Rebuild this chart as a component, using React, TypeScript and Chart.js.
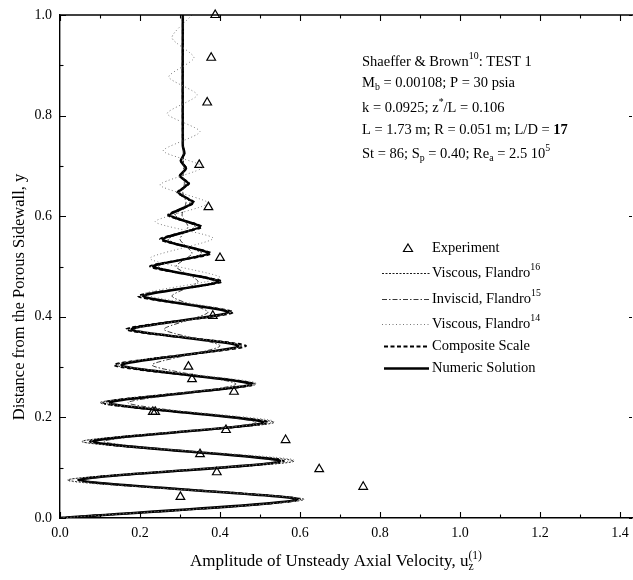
import React, { useEffect, useRef } from "react";
import { Chart, registerables } from "chart.js";

Chart.register(...registerables);

// ---- Data ----
const numericY = [0, 0.037, 0.0755, 0.113, 0.152, 0.19, 0.229, 0.266, 0.304, 0.342, 0.375, 0.409, 0.441, 0.47, 0.5, 0.526, 0.554, 0.579, 0.602, 0.627, 0.647, 0.665, 0.68, 0.695, 0.71, 0.725, 0.74, 1.0];
const numericX = [0, 0.592, 0.05, 0.55, 0.083, 0.508, 0.125, 0.477, 0.154, 0.446, 0.179, 0.421, 0.208, 0.396, 0.233, 0.371, 0.257, 0.35, 0.275, 0.332, 0.296, 0.321, 0.3, 0.315, 0.302, 0.311, 0.307, 0.307];
const compositeX = [0, 0.6, 0.045, 0.56, 0.075, 0.52, 0.108, 0.485, 0.135, 0.465, 0.165, 0.433, 0.195, 0.405, 0.225, 0.378, 0.25, 0.355, 0.27, 0.336, 0.293, 0.323, 0.299, 0.316, 0.302, 0.311, 0.307, 0.307];
const viscous16X = [0, 0.61, 0.02, 0.585, 0.055, 0.535, 0.1, 0.49, 0.14, 0.455, 0.17, 0.42, 0.21, 0.385, 0.245, 0.355, 0.27, 0.338, 0.288, 0.325, 0.3, 0.315, 0.305, 0.31, 0.308, 0.309, 0.308, 0.308];
const inviscid15X = [0, 0.59, 0.06, 0.54, 0.11, 0.49, 0.17, 0.44, 0.23, 0.4, 0.26, 0.37, 0.28, 0.345, 0.29, 0.33, 0.3, 0.32, 0.305, 0.315, 0.307, 0.311, 0.308, 0.309, 0.308, 0.308, 0.308, 0.308];
const viscous14Y = [0, 0.037, 0.075, 0.115, 0.152, 0.192, 0.23, 0.268, 0.305, 0.342, 0.375, 0.41, 0.445, 0.478, 0.516, 0.556, 0.589, 0.626, 0.662, 0.698, 0.73, 0.768, 0.804, 0.841, 0.877, 0.915, 0.955, 1.0];
const viscous14X = [0, 0.61, 0.018, 0.585, 0.055, 0.535, 0.11, 0.49, 0.145, 0.455, 0.185, 0.43, 0.21, 0.4, 0.225, 0.383, 0.238, 0.37, 0.25, 0.358, 0.258, 0.35, 0.268, 0.343, 0.272, 0.335, 0.28, 0.33];
const expX = [0.388, 0.378, 0.368, 0.348, 0.371, 0.4, 0.382, 0.321, 0.33, 0.435, 0.232, 0.238, 0.415, 0.564, 0.35, 0.392, 0.301, 0.648, 0.758];
const expY = [1.0, 0.915, 0.826, 0.702, 0.618, 0.517, 0.402, 0.301, 0.276, 0.251, 0.211, 0.211, 0.175, 0.155, 0.127, 0.091, 0.042, 0.097, 0.062];
const tickValues = [0, 0.1, 0.2, 0.3, 0.4, 0.5, 0.6, 0.7, 0.8, 0.9, 1.0, 1.1, 1.2, 1.3, 1.4];
const yTickValues = [0, 0.1, 0.2, 0.3, 0.4, 0.5, 0.6, 0.7, 0.8, 0.9, 1.0];

const FONT = '"Liberation Serif", "Times New Roman", serif';

type Seg = { t: string; k?: "sub" | "sup"; b?: boolean; stack?: boolean };

function drawRich(ctx: CanvasRenderingContext2D, x: number, y: number, segs: Seg[], size: number) {
  let cx = x;
  let prevStart = x;
  ctx.textAlign = "left";
  ctx.textBaseline = "middle";
  for (const s of segs) {
    const small = s.k === "sub" || s.k === "sup";
    const fs = small ? size * 0.68 : size;
    ctx.font = `${s.b ? "bold " : ""}${fs}px ${FONT}`;
    const dy = s.k === "sup" ? -size * 0.38 : s.k === "sub" ? size * 0.32 : 0;
    const startX = s.stack ? prevStart : cx;
    ctx.fillText(s.t, startX, y + dy);
    const w = ctx.measureText(s.t).width;
    if (!s.stack) {
      prevStart = startX;
      cx = startX + w;
    } else {
      cx = Math.max(cx, startX + w);
    }
  }
}

const pts = (xs: number[], ys: number[]) => xs.map((x, i) => ({ x, y: ys[i] }));

const decorPlugin = {
  id: "decor",
  afterDraw(chart: any) {
    const ctx: CanvasRenderingContext2D = chart.ctx;
    const xs = chart.scales.x;
    const ys = chart.scales.y;
    const { left, right, top, bottom } = chart.chartArea;
    ctx.save();
    ctx.strokeStyle = "#000";
    ctx.fillStyle = "#000";
    // top border
    ctx.lineWidth = 1.3;
    ctx.beginPath();
    ctx.moveTo(left, top);
    ctx.lineTo(right, top);
    ctx.stroke();
    // ticks
    ctx.lineWidth = 1.1;
    tickValues.forEach((v, i) => {
      const px = Math.round(xs.getPixelForValue(v)) + 0.5;
      const len = i % 2 === 0 ? 6 : 3.5;
      ctx.beginPath();
      ctx.moveTo(px, bottom);
      ctx.lineTo(px, bottom - len);
      ctx.moveTo(px, top);
      ctx.lineTo(px, top + len);
      ctx.stroke();
    });
    yTickValues.forEach((v, i) => {
      const py = Math.round(ys.getPixelForValue(v)) + 0.5;
      const len = i % 2 === 0 ? 6 : 3.5;
      ctx.beginPath();
      ctx.moveTo(left, py);
      ctx.lineTo(left + len, py);
      if (i % 2 === 0) {
        ctx.moveTo(right - 1, py);
        ctx.lineTo(right - 4, py);
      }
      ctx.stroke();
    });

    // axis titles
    ctx.fillStyle = "#000";
    drawRich(ctx, 190, 562, [
      { t: "Amplitude of Unsteady Axial Velocity, u" },
      { t: "z", k: "sub" },
      { t: "(1)", k: "sup", stack: true },
    ], 17);
    ctx.save();
    ctx.translate(20, 297);
    ctx.rotate(-Math.PI / 2);
    ctx.font = `16.5px ${FONT}`;
    ctx.textAlign = "center";
    ctx.textBaseline = "middle";
    ctx.fillText("Distance from the Porous Sidewall, y", 0, 0);
    ctx.restore();

    // annotation block
    const ax = 362;
    const fs = 14.5;
    drawRich(ctx, ax, 62, [{ t: "Shaeffer & Brown" }, { t: "10", k: "sup" }, { t: ": TEST 1" }], fs);
    drawRich(ctx, ax, 83, [{ t: "M" }, { t: "b", k: "sub" }, { t: " = 0.00108; P = 30 psia" }], fs);
    drawRich(ctx, ax, 108, [{ t: "k = 0.0925; z" }, { t: "*", k: "sup" }, { t: "/L = 0.106" }], fs);
    drawRich(ctx, ax, 130, [{ t: "L = 1.73 m; R = 0.051 m; L/D = " }, { t: "17", b: true }], fs);
    drawRich(ctx, ax, 154, [
      { t: "St = 86; S" }, { t: "p", k: "sub" }, { t: " = 0.40; Re" }, { t: "a", k: "sub" }, { t: " = 2.5 10" }, { t: "5", k: "sup" },
    ], fs);

    // legend
    const lx = 432;
    const rows = [
      { y: 248, label: [{ t: "Experiment" }] as Seg[] },
      { y: 273, label: [{ t: "Viscous, Flandro" }, { t: "16", k: "sup" }] as Seg[] },
      { y: 299, label: [{ t: "Inviscid, Flandro" }, { t: "15", k: "sup" }] as Seg[] },
      { y: 324, label: [{ t: "Viscous, Flandro" }, { t: "14", k: "sup" }] as Seg[] },
      { y: 346, label: [{ t: "Composite Scale" }] as Seg[] },
      { y: 368, label: [{ t: "Numeric Solution" }] as Seg[] },
    ];
    rows.forEach((r) => drawRich(ctx, lx, r.y, r.label, fs));
    // triangle
    ctx.lineWidth = 1.2;
    ctx.strokeStyle = "#000";
    ctx.beginPath();
    ctx.moveTo(408, 244);
    ctx.lineTo(412.5, 251.5);
    ctx.lineTo(403.5, 251.5);
    ctx.closePath();
    ctx.stroke();
    const sample = (y: number, dash: number[], w: number, color: string, x0 = 382, x1 = 430) => {
      ctx.save();
      ctx.strokeStyle = color;
      ctx.lineWidth = w;
      ctx.setLineDash(dash);
      ctx.beginPath();
      ctx.moveTo(x0, y + 0.5);
      ctx.lineTo(x1, y + 0.5);
      ctx.stroke();
      ctx.restore();
    };
    sample(273, [2, 1.5], 0.9, "#000");
    sample(299, [5, 2, 1.5, 2], 0.9, "#222");
    sample(324, [1, 2.5], 1, "#777");
    sample(346, [4, 2.5], 1.8, "#000", 384, 429);
    sample(368, [], 2.4, "#000", 384, 429);
    ctx.restore();
  },
};

export default function App() {
  const ref = useRef<HTMLCanvasElement | null>(null);
  useEffect(() => {
    document.body.style.margin = "0";
    const canvas = ref.current;
    if (!canvas) return;
    const lineDs = (label: string, xs: number[], ys: number[], color: string, width: number, dash: number[]) => ({
      type: "line" as const,
      label,
      data: pts(xs, ys),
      borderColor: color,
      borderWidth: width,
      borderDash: dash,
      pointRadius: 0,
      fill: false,
      tension: 0.22,
      showLine: true,
    });
    const chart = new Chart(canvas, {
      type: "scatter",
      data: {
        datasets: [
          lineDs("Viscous, Flandro 14", viscous14X, viscous14Y, "#7a7a7a", 1, [1, 2.5]),
          lineDs("Inviscid, Flandro 15", inviscid15X, numericY, "#222", 0.9, [5, 2, 1.5, 2]),
          lineDs("Viscous, Flandro 16", viscous16X, numericY, "#000", 0.9, [2, 1.5]),
          lineDs("Composite Scale", compositeX, numericY, "#000", 1.8, [4, 2.5]),
          lineDs("Numeric Solution", numericX, numericY, "#000", 2.5, []),
          {
            label: "Experiment",
            data: pts(expX, expY),
            pointStyle: "triangle",
            pointRadius: 5,
            borderColor: "#000",
            borderWidth: 1.2,
            backgroundColor: "rgba(255,255,255,0)",
            showLine: false,
            clip: false,
          } as any,
        ],
      },
      options: {
        animation: false,
        responsive: false,
        devicePixelRatio: 1,
        layout: { autoPadding: false, padding: { top: 15, right: 0, left: 0, bottom: 0 } },
        plugins: { legend: { display: false }, tooltip: { enabled: false } },
        scales: {
          x: {
            type: "linear",
            min: 0,
            max: 1.4325,
            afterFit: (s: any) => { s.height = 62; s.paddingLeft = 0; s.paddingRight = 0; },
            afterBuildTicks: (s: any) => { s.ticks = tickValues.map((v) => ({ value: v })); },
            grid: { display: true, drawOnChartArea: false, drawTicks: false },
            border: { display: true, color: "#000", width: 1.4 },
            ticks: {
              autoSkip: false,
              maxRotation: 0,
              padding: 7,
              color: "#000",
              font: { family: FONT, size: 14 },
              callback: (v: any) => (Math.round(Number(v) * 10) % 2 === 0 ? Number(v).toFixed(1) : ""),
            },
          },
          y: {
            type: "linear",
            min: 0,
            max: 1,
            afterFit: (s: any) => { s.width = 60; s.paddingTop = 0; s.paddingBottom = 0; },
            afterBuildTicks: (s: any) => { s.ticks = yTickValues.map((v) => ({ value: v })); },
            grid: { display: true, drawOnChartArea: false, drawTicks: false },
            border: { display: true, color: "#000", width: 1.4 },
            ticks: {
              autoSkip: false,
              padding: 8,
              color: "#000",
              font: { family: FONT, size: 14 },
              callback: (v: any) => (Math.round(Number(v) * 10) % 2 === 0 ? Number(v).toFixed(1) : ""),
            },
          },
        },
      },
      plugins: [decorPlugin],
    } as any);
    return () => chart.destroy();
  }, []);
  return (
    <div style={{ position: "absolute", left: 0, top: 0, width: 633, height: 580, background: "#fff" }}>
      <canvas ref={ref} width={633} height={580} style={{ width: 633, height: 580, display: "block" }} />
    </div>
  );
}
